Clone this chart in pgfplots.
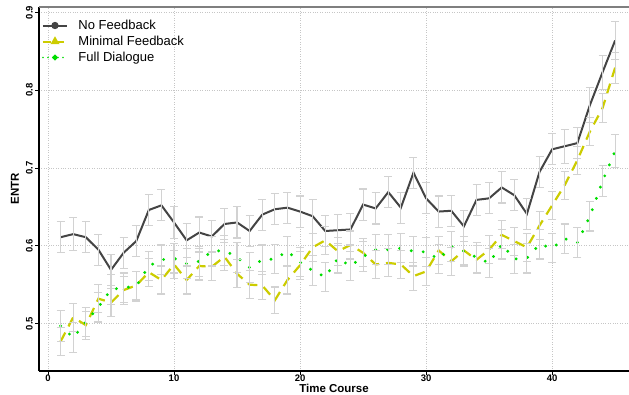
\documentclass[border=0pt]{standalone}
\usepackage{pgfplots}
\pgfplotsset{compat=1.18}
\usepackage{pgfplotstable}
\usepackage{fontspec}
\setmainfont{Liberation Sans}
\definecolor{darkln}{HTML}{444444}
\definecolor{yelln}{HTML}{CCCC00}
\definecolor{greenln}{HTML}{00DD00}
\definecolor{errcol}{HTML}{D2D2D2}
\definecolor{topln}{HTML}{7F7F7F}

\pgfplotstableread{
t v e
1 0.611 0.020
2 0.615 0.021
3 0.611 0.020
4 0.595 0.020
5 0.569 0.020
6 0.591 0.020
7 0.606 0.020
8 0.646 0.020
9 0.652 0.020
10 0.630 0.021
11 0.607 0.022
12 0.617 0.020
13 0.612 0.020
14 0.628 0.020
15 0.630 0.020
16 0.619 0.020
17 0.640 0.020
18 0.647 0.020
19 0.649 0.020
20 0.644 0.020
21 0.638 0.022
22 0.619 0.020
23 0.620 0.020
24 0.621 0.020
25 0.653 0.020
26 0.648 0.020
27 0.669 0.020
28 0.649 0.020
29 0.694 0.020
30 0.661 0.020
31 0.644 0.020
32 0.645 0.020
33 0.625 0.020
34 0.659 0.020
35 0.661 0.020
36 0.675 0.020
37 0.665 0.020
38 0.641 0.020
39 0.695 0.020
40 0.724 0.020
41 0.728 0.022
42 0.732 0.020
43 0.781 0.022
44 0.823 0.022
45 0.864 0.024
}\nofeedback

\pgfplotstableread{
t v e
1 0.477 0.018
2 0.508 0.018
3 0.498 0.018
4 0.532 0.018
5 0.527 0.018
6 0.543 0.018
7 0.549 0.018
8 0.566 0.018
9 0.556 0.018
10 0.576 0.018
11 0.556 0.018
12 0.574 0.018
13 0.573 0.018
14 0.586 0.018
15 0.564 0.018
16 0.550 0.018
17 0.549 0.018
18 0.530 0.017
19 0.556 0.018
20 0.575 0.018
21 0.598 0.018
22 0.607 0.018
23 0.593 0.018
24 0.601 0.018
25 0.591 0.018
26 0.576 0.018
27 0.578 0.018
28 0.576 0.018
29 0.561 0.018
30 0.567 0.018
31 0.594 0.018
32 0.580 0.018
33 0.594 0.018
34 0.582 0.018
35 0.595 0.018
36 0.614 0.018
37 0.606 0.018
38 0.598 0.018
39 0.626 0.018
40 0.652 0.018
41 0.678 0.018
42 0.710 0.018
43 0.747 0.018
44 0.777 0.019
45 0.829 0.020
}\minimalfb

\pgfplotstableread{
t v e
1 0.497 0.020
2 0.482 0.019
3 0.502 0.019
4 0.521 0.019
5 0.544 0.019
6 0.546 0.019
7 0.548 0.019
8 0.574 0.019
9 0.582 0.019
10 0.584 0.019
11 0.577 0.019
12 0.580 0.019
13 0.593 0.019
14 0.594 0.019
15 0.585 0.019
16 0.572 0.019
17 0.582 0.019
18 0.583 0.019
19 0.593 0.019
20 0.579 0.019
21 0.568 0.019
22 0.560 0.019
23 0.584 0.019
24 0.574 0.019
25 0.586 0.019
26 0.595 0.019
27 0.595 0.019
28 0.597 0.019
29 0.593 0.019
30 0.592 0.019
31 0.583 0.019
32 0.599 0.019
33 0.593 0.019
34 0.585 0.019
35 0.578 0.019
36 0.602 0.019
37 0.583 0.019
38 0.584 0.019
39 0.602 0.019
40 0.597 0.019
41 0.609 0.019
42 0.604 0.019
43 0.638 0.019
44 0.683 0.020
45 0.722 0.021
}\fulldialogue

\begin{document}
\begin{tikzpicture}
\useasboundingbox (-39pt,-23pt) rectangle (590pt,371pt);
\begin{axis}[
  scale only axis, width=590pt, height=364pt,
  xmin=-0.714, xmax=46.1, ymin=0.439, ymax=0.907,
  axis x line=bottom, axis y line=left,
  axis line style={-, black, line width=1.2pt},
  xtick={0,10,20,30,40}, ytick={0.5,0.6,0.7,0.8,0.9},
  tick align=outside, major tick length=3.5pt,
  tick style={black, line width=0.8pt},
  grid=major, grid style={dotted, gray!45, line width=0.6pt},
  /pgf/number format/assume math mode=true,
  ticklabel style={font=\fontsize{9.5}{10}\selectfont\bfseries},
  xticklabel style={inner sep=0.5pt, text depth=0pt, yshift=0.5pt},
  yticklabel style={rotate=90, anchor=south, inner sep=2.5pt,
    /pgf/number format/fixed, /pgf/number format/precision=1,
    /pgf/number format/fixed zerofill},
  xlabel={Time Course}, ylabel={ENTR},
  label style={font=\fontsize{11.5}{12}\selectfont\bfseries},
  xlabel style={at={(axis description cs:0.5,0)}, anchor=north, yshift=-13pt, inner sep=0pt, text depth=0pt},
  ylabel style={at={([xshift=-20pt]axis description cs:0,0.5)}, anchor=south, inner sep=0pt},
  legend style={at={([xshift=3pt,yshift=-10.5pt]axis description cs:0,1)}, anchor=north west,
    draw=none, fill=none, inner sep=0pt, outer sep=0pt, row sep=0pt,
    font=\fontsize{13}{15}\selectfont,
    nodes={inner sep=1.5pt, text height=10pt, text depth=3pt},
    /tikz/every odd column/.append style={column sep=9pt}},
  legend cell align=left,
  legend image code/.code={\draw[mark repeat=2, mark phase=2, #1] plot coordinates {(0pt,0pt) (12pt,0pt) (24pt,0pt)};},
  after end axis/.code={\draw[topln, line width=2.2pt] (rel axis cs:0,1) -- (rel axis cs:1,1);},
]
\addlegendimage{darkln, line width=2pt, mark=*, mark size=2.6pt, mark options={solid}}
\addlegendentry{No Feedback}
\addlegendimage{yelln, line width=2pt, dash pattern=on 8pt off 5pt, mark=triangle*, mark size=3.2pt, mark options={solid}}
\addlegendentry{Minimal Feedback}
\addlegendimage{greenln, line width=1.8pt, line cap=round, dash pattern=on 0pt off 5pt, mark=*, mark size=1.8pt, mark options={solid}}
\addlegendentry{Full Dialogue}

\addplot[forget plot, darkln, line width=2pt, mark=none] table[x=t, y=v] {\nofeedback};
\addplot[forget plot, yelln, line width=2.2pt, dash pattern=on 10pt off 7pt, mark=none] table[x=t, y=v] {\minimalfb};
\addplot[forget plot, greenln, line width=3.2pt, line cap=round, dash pattern=on 0pt off 12pt, mark=none] table[x=t, y=v] {\fulldialogue};

\addplot[forget plot, draw=none, mark=none,
  error bars/.cd, y dir=both, y explicit,
  error bar style={draw=errcol, solid, line width=1.1pt},
  error mark options={draw=errcol, solid, rotate=90, mark size=4pt, line width=1.1pt}]
  table[x=t, y=v, y error=e] {\nofeedback};
\addplot[forget plot, draw=none, mark=none,
  error bars/.cd, y dir=both, y explicit,
  error bar style={draw=errcol, solid, line width=1.1pt},
  error mark options={draw=errcol, solid, rotate=90, mark size=4pt, line width=1.1pt}]
  table[x=t, y=v, y error=e] {\minimalfb};
\addplot[forget plot, draw=none, mark=none,
  error bars/.cd, y dir=both, y explicit,
  error bar style={draw=errcol, solid, line width=1.1pt},
  error mark options={draw=errcol, solid, rotate=90, mark size=4pt, line width=1.1pt}]
  table[x=t, y=v, y error=e] {\fulldialogue};
\end{axis}
\end{tikzpicture}
\end{document}
